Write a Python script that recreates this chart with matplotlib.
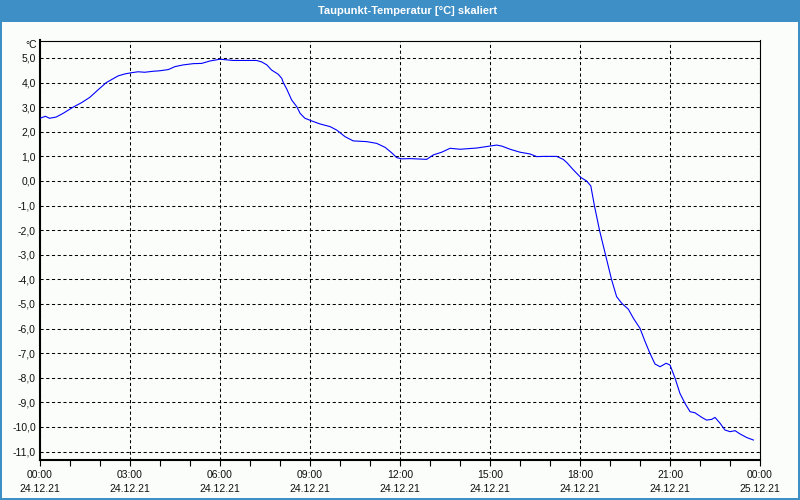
import matplotlib
matplotlib.use("Agg")
import matplotlib.pyplot as plt
from matplotlib.patches import Rectangle

# ---- data (hours since 24.12.21 00:00, dew point in °C) ----
hours = [0.00, 0.18, 0.32, 0.54, 0.77, 1.10, 1.38, 1.66, 1.93, 2.21, 2.60, 2.82,
         3.04, 3.27, 3.49, 3.77, 3.99, 4.28, 4.50, 4.78, 5.11, 5.39, 5.67, 6.00,
         6.44, 6.89, 7.22, 7.39, 7.56, 7.72, 7.94, 8.06, 8.11, 8.22, 8.39, 8.56,
         8.67, 8.83, 9.06, 9.33, 9.67, 9.89, 10.17, 10.44, 10.89, 11.22, 11.50,
         11.72, 11.89, 12.06, 12.33, 12.89, 13.11, 13.39, 13.67, 14.00, 14.56,
         15.00, 15.22, 15.39, 15.67, 16.00, 16.33, 16.56, 16.78, 17.22, 17.44,
         17.56, 17.78, 18.02, 18.22, 18.36, 18.48, 18.65, 18.85, 19.05, 19.22,
         19.39, 19.61, 19.78, 20.00, 20.17, 20.33, 20.50, 20.67, 20.87, 21.00,
         21.17, 21.33, 21.50, 21.67, 21.83, 22.06, 22.22, 22.39, 22.50, 22.67,
         22.83, 23.00, 23.17, 23.33, 23.56, 23.78]
dewpoint = [2.55, 2.63, 2.55, 2.60, 2.75, 3.00, 3.18, 3.40, 3.70, 4.00, 4.27, 4.35,
            4.40, 4.44, 4.42, 4.46, 4.48, 4.53, 4.65, 4.72, 4.77, 4.78, 4.88, 4.95,
            4.90, 4.90, 4.90, 4.84, 4.72, 4.51, 4.34, 4.17, 4.00, 3.75, 3.29, 3.02,
            2.75, 2.55, 2.44, 2.32, 2.21, 2.07, 1.80, 1.63, 1.60, 1.53, 1.37,
            1.15, 0.95, 0.90, 0.91, 0.88, 1.06, 1.17, 1.33, 1.29, 1.34,
            1.42, 1.46, 1.42, 1.29, 1.17, 1.10, 0.99, 1.00, 1.00, 0.88,
            0.75, 0.45, 0.15, 0.00, -0.20, -1.00, -2.00, -3.00, -4.00, -4.70,
            -4.97, -5.21, -5.58, -5.99, -6.53, -7.00, -7.44, -7.55, -7.41, -7.48,
            -8.02, -8.63, -9.04, -9.38, -9.42, -9.61, -9.72, -9.69, -9.61, -9.85,
            -10.12, -10.19, -10.15, -10.28, -10.43, -10.53]

x_tick_hours = [0, 3, 6, 9, 12, 15, 18, 21, 24]
x_tick_times = ['00:00', '03:00', '06:00', '09:00', '12:00', '15:00', '18:00', '21:00', '00:00']
x_tick_dates = ['24.12.21', '24.12.21', '24.12.21', '24.12.21', '24.12.21',
                '24.12.21', '24.12.21', '24.12.21', '25.12.21']
y_ticks = [5, 4, 3, 2, 1, 0, -1, -2, -3, -4, -5, -6, -7, -8, -9, -10, -11]
y_tick_labels = [f"{v:.1f}".replace('.', ',') for v in y_ticks]

title = 'Taupunkt-Temperatur [°C] skaliert'
unit = '°C'

W, H = 800, 500
frame_blue = '#3d8fc6'
bg = '#fbfdfb'
font = 'Liberation Sans'
fs = 7.5

fig = plt.figure(figsize=(W / 100, H / 100), dpi=100)
fig.patch.set_facecolor(bg)

# window frame + title bar
fig.add_artist(Rectangle((0, 1 - 22 / H), 1, 22 / H, transform=fig.transFigure,
                         facecolor=frame_blue, edgecolor='none', zorder=0))
fig.add_artist(Rectangle((0, 0), 2 / W, 1, transform=fig.transFigure,
                         facecolor=frame_blue, edgecolor='none', zorder=0))
fig.add_artist(Rectangle((1 - 2 / W, 0), 2 / W, 1, transform=fig.transFigure,
                         facecolor=frame_blue, edgecolor='none', zorder=0))
fig.add_artist(Rectangle((0, 0), 1, 2 / H, transform=fig.transFigure,
                         facecolor=frame_blue, edgecolor='none', zorder=0))
fig.text(408 / W, 1 - 10.5 / H, title, color='white', fontsize=8,
         fontweight='bold', family=font, ha='center', va='center')

ax = fig.add_axes([40 / W, 1 - 460.3 / H, 720 / W, 419.8 / H])
ax.set_facecolor(bg)
ax.plot(hours, dewpoint, color='#0000ff', linewidth=0.8, zorder=3)

ax.set_xlim(0, 24)
ax.set_ylim(-11.354, 5.711)

ax.set_xticks(x_tick_hours)
ax.set_xticklabels([f"{t}\n{d}" for t, d in zip(x_tick_times, x_tick_dates)],
                   family=font, fontsize=fs, linespacing=1.45, color='#101010')
ax.set_xticks(range(0, 25), minor=True)
ax.tick_params(axis='x', which='both', direction='out', length=4, width=0.8,
               pad=3, color='black')
ax.set_yticks(y_ticks)
ax.set_yticklabels(y_tick_labels, family=font, fontsize=fs, color='#101010')
ax.tick_params(axis='y', length=0, pad=3)

ax.grid(True, which='major', color='black', linestyle=(0, (3, 2.5)), linewidth=0.75)

for s in ['top', 'right']:
    ax.spines[s].set_linewidth(0.8)
for s in ['left', 'bottom']:
    ax.spines[s].set_linewidth(1.5)

fig.text(37 / W, 1 - 45 / H, unit, family=font, fontsize=fs, ha='right',
         va='center', color='#101010')

fig.savefig('out.png', dpi=100, facecolor=bg)
